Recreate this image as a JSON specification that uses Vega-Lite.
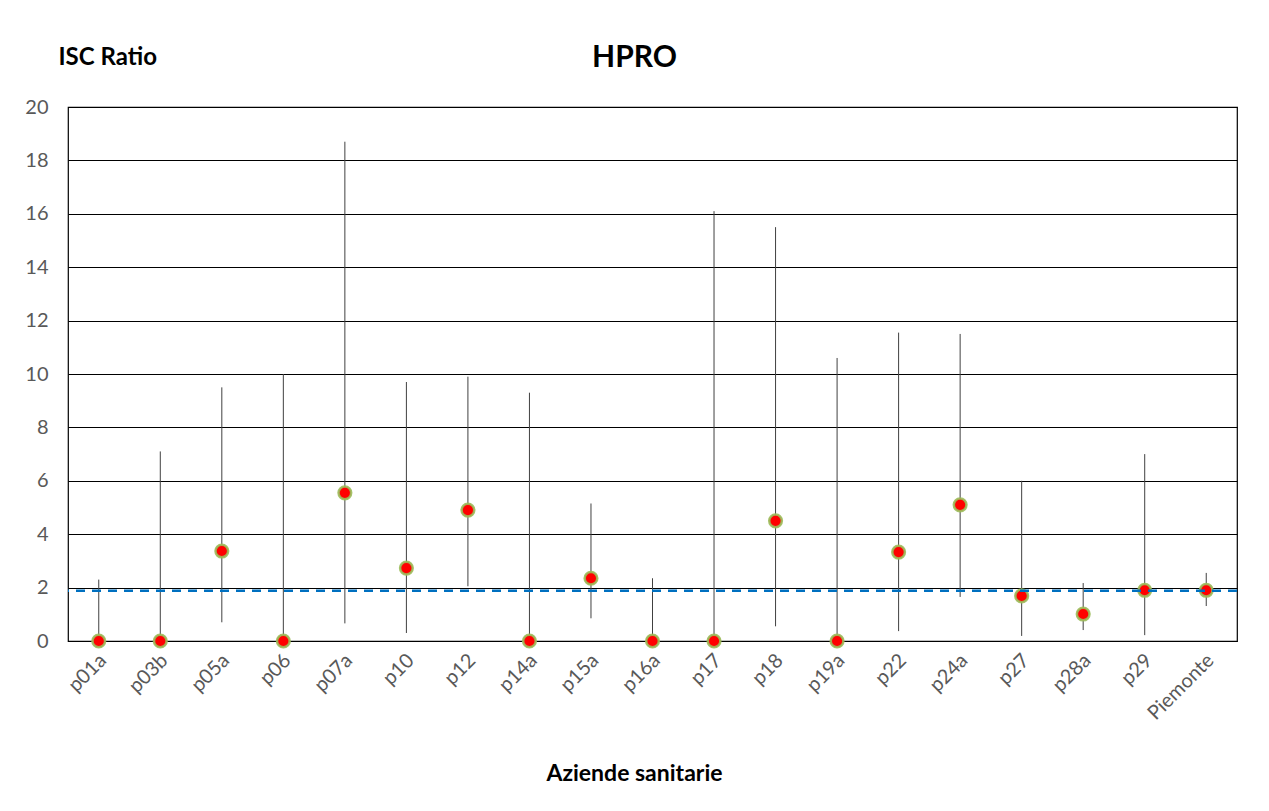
{
  "$schema": "https://vega.github.io/schema/vega-lite/v6.json",
  "autosize": {"type": "none"},
  "width": 1169,
  "height": 534,
  "padding": {"left": 68, "top": 107, "right": 32, "bottom": 170},
  "background": "white",
  "title": {"text": "HPRO", "font": "Lato", "fontSize": 30, "fontWeight": "bold", "color": "#000000", "anchor": "middle", "offset": 34, "dx": -18, "dy": 62},
  "datasets": {
    "main": [
      {"azienda": "p01a", "isc": 0, "low": 0, "high": 2.3},
      {"azienda": "p03b", "isc": 0, "low": 0, "high": 7.1},
      {"azienda": "p05a", "isc": 3.37, "low": 0.7, "high": 9.5},
      {"azienda": "p06", "isc": 0, "low": 0, "high": 10.0},
      {"azienda": "p07a", "isc": 5.55, "low": 0.66, "high": 18.7},
      {"azienda": "p10", "isc": 2.73, "low": 0.3, "high": 9.7},
      {"azienda": "p12", "isc": 4.9, "low": 2.05, "high": 9.9},
      {"azienda": "p14a", "isc": 0, "low": 0, "high": 9.3},
      {"azienda": "p15a", "isc": 2.35, "low": 0.85, "high": 5.15},
      {"azienda": "p16a", "isc": 0, "low": 0, "high": 2.35},
      {"azienda": "p17", "isc": 0, "low": 0, "high": 16.1},
      {"azienda": "p18", "isc": 4.5, "low": 0.55, "high": 15.5},
      {"azienda": "p19a", "isc": 0, "low": 0, "high": 10.6},
      {"azienda": "p22", "isc": 3.33, "low": 0.37, "high": 11.55},
      {"azienda": "p24a", "isc": 5.1, "low": 1.65, "high": 11.5},
      {"azienda": "p27", "isc": 1.69, "low": 0.19, "high": 6.0},
      {"azienda": "p28a", "isc": 1.01, "low": 0.41, "high": 2.17},
      {"azienda": "p29", "isc": 1.9, "low": 0.22, "high": 7.0},
      {"azienda": "Piemonte", "isc": 1.9, "low": 1.31, "high": 2.55}
    ],
    "ref": [{"piemonte": 1.88}]
  },
  "config": {
    "view": {"stroke": "#000000", "strokeWidth": 1.2},
    "axis": {"labelFont": "Lato", "titleFont": "Lato"}
  },
  "layer": [
    {
      "data": {"name": "main"},
      "mark": {"type": "rule", "color": "#404040", "strokeWidth": 1},
      "encoding": {
        "x": {
          "field": "azienda", "type": "nominal", "sort": null,
          "scale": {"type": "point", "padding": 0.5},
          "axis": {
            "title": "Aziende sanitarie", "titleFontSize": 23, "titleFontWeight": "bold", "titleColor": "#000000",
            "titleX": 566, "titleY": 132, "titleBaseline": "middle",
            "labelAngle": -45, "labelAlign": "right", "labelBaseline": "middle", "labelFontSize": 20, "labelColor": "#595959",
            "labelPadding": 16, "labelOffset": 4, "ticks": false, "domain": false, "grid": false
          }
        },
        "y": {
          "field": "low", "type": "quantitative",
          "scale": {"domain": [0, 20], "nice": false},
          "axis": {
            "title": "ISC Ratio", "titleAngle": 0, "titleAlign": "left", "titleBaseline": "middle",
            "titleX": -10, "titleY": -50, "titleFontSize": 24, "titleFontWeight": "bold", "titleColor": "#000000",
            "values": [0, 2, 4, 6, 8, 10, 12, 14, 16, 18, 20],
            "labelFontSize": 20, "labelColor": "#595959", "labelPadding": 20,
            "ticks": false, "domain": false, "grid": true, "gridColor": "#000000", "gridWidth": 1, "gridOpacity": 1
          }
        },
        "y2": {"field": "high"}
      }
    },
    {
      "data": {"name": "main"},
      "mark": {"type": "point", "filled": true, "fill": "#FF0000", "stroke": "#9BBB59", "strokeWidth": 2.5, "size": 160, "opacity": 1, "fillOpacity": 1, "strokeOpacity": 0.9},
      "encoding": {
        "x": {"field": "azienda", "type": "nominal", "sort": null},
        "y": {"field": "isc", "type": "quantitative"}
      }
    },
    {
      "data": {"name": "ref"},
      "mark": {"type": "rule", "color": "#0070C0", "strokeWidth": 2.5, "strokeDash": [9, 7]},
      "encoding": {
        "y": {"field": "piemonte", "type": "quantitative"}
      }
    }
  ]
}
